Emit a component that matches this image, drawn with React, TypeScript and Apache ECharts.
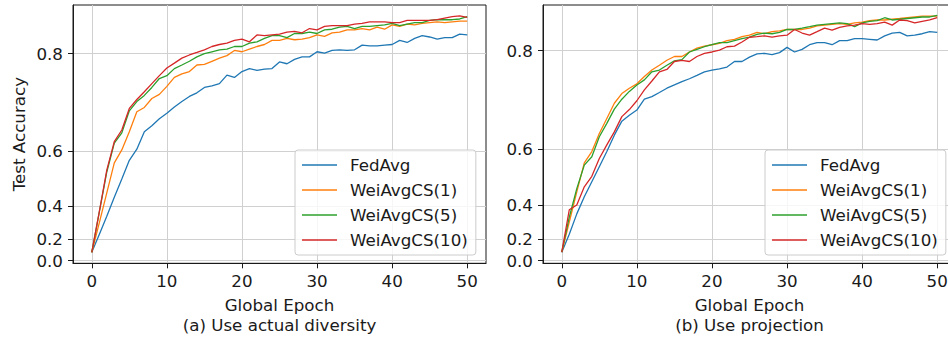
import React, { useEffect, useRef } from 'react';
import * as echarts from 'echarts';

const epochs = [0,1,2,3,4,5,6,7,8,9,10,11,12,13,14,15,16,17,18,19,20,21,22,23,24,25,26,27,28,29,30,31,32,33,34,35,36,37,38,39,40,41,42,43,44,45,46,47,48,49,50];
const seriesNames = ['FedAvg', 'WeiAvgCS(1)', 'WeiAvgCS(5)', 'WeiAvgCS(10)'];
const colors = ['#1f77b4', '#ff7f0e', '#2ca02c', '#d62728'];
const yTicks = [0.0, 0.2, 0.4, 0.6, 0.8];
const xTicks = [0, 10, 20, 30, 40, 50];
const subtitles = ['(a) Use actual diversity', '(b) Use projection'];

// (a) Use actual diversity
const fedAvgA = [0.088,0.236,0.349,0.441,0.512,0.573,0.605,0.65,0.664,0.68,0.692,0.705,0.716,0.726,0.733,0.743,0.746,0.750,0.765,0.761,0.771,0.776,0.773,0.775,0.776,0.787,0.784,0.791,0.795,0.795,0.803,0.801,0.805,0.806,0.805,0.806,0.813,0.812,0.812,0.813,0.814,0.820,0.817,0.823,0.827,0.825,0.822,0.824,0.824,0.829,0.828];
const cs1A = [0.088,0.311,0.459,0.565,0.603,0.65,0.695,0.704,0.722,0.730,0.745,0.761,0.767,0.771,0.782,0.783,0.788,0.793,0.797,0.805,0.803,0.807,0.811,0.814,0.820,0.820,0.823,0.821,0.822,0.824,0.828,0.826,0.831,0.832,0.835,0.835,0.837,0.835,0.839,0.836,0.842,0.840,0.843,0.842,0.844,0.845,0.846,0.845,0.846,0.847,0.847];
const cs5A = [0.088,0.370,0.536,0.621,0.647,0.697,0.716,0.728,0.743,0.759,0.764,0.776,0.782,0.788,0.795,0.800,0.803,0.806,0.807,0.811,0.811,0.816,0.818,0.823,0.827,0.827,0.824,0.830,0.830,0.832,0.830,0.835,0.836,0.839,0.840,0.837,0.840,0.840,0.841,0.842,0.844,0.841,0.843,0.845,0.845,0.848,0.849,0.849,0.849,0.850,0.853];
const cs10A = [0.088,0.372,0.542,0.625,0.654,0.702,0.720,0.735,0.750,0.764,0.777,0.785,0.793,0.798,0.802,0.806,0.811,0.814,0.816,0.820,0.822,0.818,0.828,0.827,0.828,0.829,0.832,0.833,0.831,0.837,0.835,0.840,0.841,0.841,0.841,0.843,0.844,0.846,0.846,0.846,0.845,0.845,0.848,0.848,0.848,0.848,0.849,0.851,0.853,0.854,0.852];

// (b) Use projection
const fedAvgB = [0.088,0.234,0.358,0.439,0.498,0.549,0.594,0.637,0.670,0.683,0.694,0.716,0.721,0.729,0.737,0.743,0.749,0.754,0.760,0.766,0.769,0.771,0.774,0.783,0.783,0.790,0.795,0.796,0.794,0.797,0.805,0.798,0.802,0.809,0.812,0.812,0.809,0.815,0.815,0.818,0.818,0.817,0.816,0.822,0.826,0.827,0.822,0.823,0.825,0.828,0.827];
const cs1B = [0.088,0.313,0.459,0.561,0.594,0.641,0.676,0.708,0.727,0.737,0.745,0.758,0.769,0.777,0.785,0.791,0.791,0.798,0.804,0.807,0.809,0.811,0.815,0.817,0.821,0.823,0.827,0.825,0.828,0.829,0.831,0.831,0.831,0.833,0.836,0.837,0.838,0.839,0.838,0.840,0.841,0.843,0.844,0.844,0.845,0.846,0.847,0.848,0.849,0.849,0.849];
const cs5B = [0.088,0.340,0.472,0.554,0.579,0.633,0.665,0.696,0.716,0.731,0.743,0.752,0.766,0.769,0.777,0.784,0.786,0.798,0.802,0.806,0.809,0.812,0.812,0.815,0.818,0.820,0.824,0.826,0.825,0.827,0.831,0.831,0.833,0.835,0.837,0.838,0.839,0.840,0.839,0.835,0.840,0.842,0.843,0.847,0.844,0.845,0.846,0.847,0.848,0.848,0.850];
const cs10B = [0.088,0.379,0.402,0.479,0.517,0.574,0.612,0.645,0.680,0.695,0.713,0.734,0.750,0.766,0.770,0.783,0.785,0.783,0.791,0.796,0.798,0.801,0.806,0.807,0.813,0.820,0.821,0.822,0.820,0.822,0.823,0.831,0.826,0.823,0.828,0.833,0.830,0.834,0.836,0.837,0.839,0.838,0.839,0.841,0.837,0.844,0.843,0.840,0.842,0.844,0.847];

const panels = [
  [fedAvgA, cs1A, cs5A, cs10A],
  [fedAvgB, cs1B, cs5B, cs10B],
];

// the reference uses a non-linear (expanding) y scale
const warp = (v: number) => Math.exp(3.2 * v) - 1 + 2.88 * v;

const FONT = 'DejaVu Sans';
const FS = 16.7;
const INK = '#1a1a1a';

export default function App() {
  const ref = useRef<HTMLDivElement>(null);
  useEffect(() => {
    if (!ref.current) return;
    const chart = echarts.init(ref.current, undefined, { renderer: 'svg' });
    const yTickVals = yTicks.map(warp);
    const fmtY = (val: number) => {
      let best = yTicks[0];
      let d = Infinity;
      yTicks.forEach((t) => {
        const dd = Math.abs(warp(t) - val);
        if (dd < d) { d = dd; best = t; }
      });
      return best.toFixed(1);
    };
    const yRanges = [
      { min: -0.179, max: 17.59 },
      { min: -0.176, max: 17.338 },
    ];
    const gridLefts = [73, 543];
    const legendLefts = [295, 765];

    const option: any = {
      animation: false,
      color: colors,
      textStyle: { fontFamily: FONT },
      grid: gridLefts.map((l) => ({
        left: l, top: 5, width: 413, height: 258.3,
        containLabel: false, outerBoundsMode: 'none',
        show: true, borderColor: INK, borderWidth: 1, backgroundColor: 'transparent',
      })),
      xAxis: [0, 1].map((i) => ({
        type: 'value', gridIndex: i, min: -2.5, max: 52.5,
        axisLine: { show: true, onZero: false, lineStyle: { color: INK, width: 1 } },
        axisTick: { show: true, length: 5, lineStyle: { color: INK, width: 1 }, customValues: xTicks },
        axisLabel: { customValues: xTicks, fontSize: FS, fontFamily: FONT, color: INK, margin: 9 },
        splitLine: { show: true, lineStyle: { color: '#d0d0d0', width: 1 } },
        name: 'Global Epoch\n' + subtitles[i],
        nameLocation: 'middle', nameGap: 32,
        nameTextStyle: { fontSize: FS, fontFamily: FONT, color: INK, lineHeight: 20 },
      })),
      yAxis: [0, 1].map((i) => ({
        type: 'value', gridIndex: i, min: yRanges[i].min, max: yRanges[i].max,
        axisLine: { show: true, onZero: false, lineStyle: { color: INK, width: 1 } },
        axisTick: { show: true, length: 5, lineStyle: { color: INK, width: 1 }, customValues: yTickVals },
        axisLabel: { customValues: yTickVals, formatter: fmtY, fontSize: FS, fontFamily: FONT, color: INK, margin: 10 },
        splitLine: { show: true, lineStyle: { color: '#d0d0d0', width: 1 } },
        name: i === 0 ? 'Test Accuracy' : '',
        nameLocation: 'middle', nameGap: 46,
        nameTextStyle: { fontSize: FS, fontFamily: FONT, color: INK },
      })),
      legend: legendLefts.map((l) => ({
        left: l, top: 150, orient: 'vertical',
        data: seriesNames,
        icon: 'rect', itemWidth: 35, itemHeight: 1.6, itemGap: 5,
        padding: [5, 8, 5, 7],
        backgroundColor: 'rgba(255,255,255,0.8)',
        borderColor: '#cccccc', borderWidth: 1, borderRadius: 3,
        selectedMode: false,
        textStyle: { fontSize: FS, fontFamily: FONT, color: INK, lineHeight: 20, padding: [0, 0, 0, 8] },
      })),
      series: panels.flatMap((vals, p) =>
        vals.map((arr, s) => ({
          type: 'line', name: seriesNames[s], xAxisIndex: p, yAxisIndex: p,
          data: epochs.map((e, k) => [e, warp(arr[k])]),
          symbol: 'none', showSymbol: false,
          lineStyle: { width: 1.3, color: colors[s] },
          itemStyle: { color: colors[s] },
          z: 2 + s,
        }))
      ),
    };
    chart.setOption(option);
    return () => chart.dispose();
  }, []);
  return <div ref={ref} style={{ position: 'absolute', left: 0, top: 0, width: 948, height: 341 }} />;
}
